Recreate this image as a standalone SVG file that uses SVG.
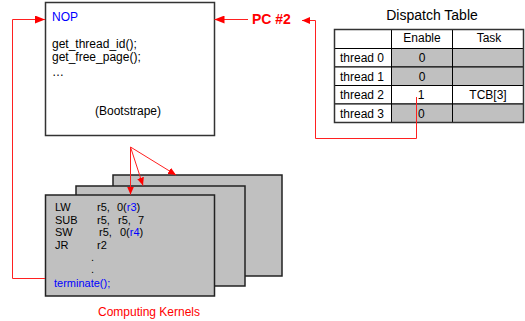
<svg xmlns="http://www.w3.org/2000/svg" width="525" height="321" viewBox="0 0 525 321">
  <style>
    text { font-family: "Liberation Sans", Arial, sans-serif; fill: #000; }
    .box { fill: #fff; stroke: #333; stroke-width: 1.5; }
    .kernel { fill: #c0c0c0; stroke: #222; stroke-width: 1.5; }
    .code { font-size: 12px; }
    .asm { font-size: 11px; }
    .blue { fill: #0000ff; }
    .red { fill: #ff0000; }
    .cell { stroke: #000; stroke-width: 1; }
    .grey { fill: #c0c0c0; }
    .white { fill: #fff; }
    .tbl { font-size: 12px; }
    .wire { fill: none; stroke: #ff2020; stroke-width: 1; }
  </style>
  <defs>
    <marker id="head" viewBox="0 0 10 8" refX="10" refY="4" markerWidth="10" markerHeight="8" markerUnits="userSpaceOnUse" orient="auto">
      <path d="M0,0 L10,4 L0,8 Z" fill="#ff0000"/>
    </marker>
    <marker id="headSmall" viewBox="0 0 8 7" refX="8" refY="3.5" markerWidth="8" markerHeight="7" markerUnits="userSpaceOnUse" orient="auto">
      <path d="M0,0 L8,3.5 L0,7 Z" fill="#ff0000"/>
    </marker>
  </defs>

  <!-- Bootstrap code block -->
  <g id="bootstrap">
    <rect class="box" x="45.5" y="2.5" width="169" height="133"/>
    <text class="code blue" x="52" y="21">NOP</text>
    <text class="code" x="52" y="48">get_thread_id();</text>
    <text class="code" x="52" y="61">get_free_page();</text>
    <text class="code" x="52" y="76">…</text>
    <text class="code" x="128" y="115" text-anchor="middle">(Bootstrape)</text>
  </g>

  <!-- Program counter label -->
  <g id="pc">
    <text x="252" y="24" font-size="14" font-weight="bold" class="red">PC #2</text>
  </g>

  <!-- Dispatch table -->
  <g id="dispatch-table">
    <text x="432" y="20" font-size="14" text-anchor="middle">Dispatch Table</text>
    <!-- header -->
    <rect class="cell white" x="334.5" y="29.5" width="57" height="19"/>
    <rect class="cell white" x="391.5" y="29.5" width="61" height="19"/>
    <rect class="cell white" x="452.5" y="29.5" width="71" height="19"/>
    <text class="tbl" x="422" y="42" text-anchor="middle">Enable</text>
    <text class="tbl" x="489" y="42" text-anchor="middle">Task</text>
    <!-- thread 0 -->
    <rect class="cell white" x="334.5" y="48.5" width="57" height="18.5"/>
    <rect class="cell grey" x="391.5" y="48.5" width="61" height="18.5"/>
    <rect class="cell grey" x="452.5" y="48.5" width="71" height="18.5"/>
    <text class="tbl" x="340" y="62">thread 0</text>
    <text class="tbl" x="422" y="62" text-anchor="middle">0</text>
    <!-- thread 1 -->
    <rect class="cell white" x="334.5" y="67" width="57" height="18.5"/>
    <rect class="cell grey" x="391.5" y="67" width="61" height="18.5"/>
    <rect class="cell grey" x="452.5" y="67" width="71" height="18.5"/>
    <text class="tbl" x="340" y="80.5">thread 1</text>
    <text class="tbl" x="422" y="80.5" text-anchor="middle">0</text>
    <!-- thread 2 -->
    <rect class="cell white" x="334.5" y="85.5" width="57" height="18.5"/>
    <rect class="cell white" x="391.5" y="85.5" width="61" height="18.5"/>
    <rect class="cell white" x="452.5" y="85.5" width="71" height="18.5"/>
    <text class="tbl" x="340" y="99">thread 2</text>
    <text class="tbl" x="421" y="99" text-anchor="middle">1</text>
    <text class="tbl" x="488" y="99" text-anchor="middle">TCB[3]</text>
    <!-- thread 3 -->
    <rect class="cell white" x="334.5" y="104" width="57" height="18.5"/>
    <rect class="cell grey" x="391.5" y="104" width="61" height="18.5"/>
    <rect class="cell grey" x="452.5" y="104" width="71" height="18.5"/>
    <text class="tbl" x="340" y="117.5">thread 3</text>
    <text class="tbl" x="418" y="118">0</text>
    <!-- outer frame -->
    <rect x="334.5" y="29.5" width="189" height="93" fill="none" stroke="#333" stroke-width="1.5"/>
  </g>

  <!-- Stack of computing kernels -->
  <g id="kernel-back">
    <rect class="kernel" x="113" y="175" width="169" height="101"/>
  </g>
  <g id="kernel-middle">
    <rect class="kernel" x="76" y="186" width="169" height="100"/>
  </g>
  <g id="kernel-front">
    <rect class="kernel" x="45.5" y="195" width="169" height="101"/>
    <text class="asm" x="55" y="211">LW</text>
    <text class="asm" x="97" y="211">r5,</text>
    <text class="asm" x="117" y="211">0(<tspan class="blue">r3</tspan>)</text>
    <text class="asm" x="55" y="224">SUB</text>
    <text class="asm" x="97" y="224">r5,</text>
    <text class="asm" x="118" y="224">r5,</text>
    <text class="asm" x="138" y="224">7</text>
    <text class="asm" x="55" y="236">SW</text>
    <text class="asm" x="99" y="236">r5,</text>
    <text class="asm" x="120" y="236">0(<tspan class="blue">r4</tspan>)</text>
    <text class="asm" x="55" y="249">JR</text>
    <text class="asm" x="97" y="249">r2</text>
    <text class="asm" x="91" y="261">.</text>
    <text class="asm" x="91" y="273">.</text>
    <text class="asm blue" x="54" y="287">terminate();</text>
  </g>
  <g id="kernel-label">
    <text x="149" y="316" font-size="12" text-anchor="middle" class="red">Computing Kernels</text>
  </g>

  <!-- Connectors -->
  <g id="connectors">
    <path class="wire" d="M45,278.5 H12.5 V19.5 H45" marker-end="url(#head)"/>
    <path class="wire" d="M248,19.5 H214.5" marker-end="url(#head)"/>
    <path class="wire" d="M416.5,97 V138.5 H315.5 V20.5 H302" marker-end="url(#headSmall)"/>
    <path class="wire" d="M130.5,147 V194.5" marker-end="url(#headSmall)"/>
    <path class="wire" d="M130.5,147 L143,185.5" marker-end="url(#headSmall)"/>
    <path class="wire" d="M130.5,147 L176,175" marker-end="url(#headSmall)"/>
  </g>
</svg>
